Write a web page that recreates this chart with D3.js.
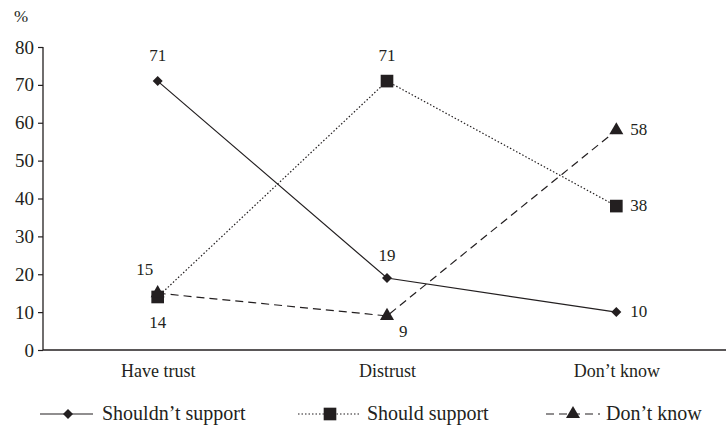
<!DOCTYPE html>
<html><head><meta charset="utf-8">
<script src="https://cdn.jsdelivr.net/npm/d3@7"></script>
<style>body{margin:0;background:#fff}</style>
</head><body>
<svg id="c" width="726" height="428" font-family="Liberation Serif, Tinos, Times New Roman, serif"></svg>
<script>
const categories = ["Have trust", "Distrust", "Don\u2019t know"];
const shouldntSupport = [71, 19, 10];
const shouldSupport = [14, 71, 38];
const dontKnow = [15, 9, 58];
const seriesNames = ["Shouldn\u2019t support", "Should support", "Don\u2019t know"];
const yTicks = [0, 10, 20, 30, 40, 50, 60, 70, 80];

const FONT = "Liberation Serif, Tinos, Times New Roman, serif";
const svg = d3.select("#c");
const x = d3.scalePoint().domain(categories).range([43, 731]).padding(0.5);
const y = d3.scaleLinear().domain([0, 80]).range([350, 47]);
const col = "#231f20";

// y axis
const ya = svg.append("g").attr("transform", "translate(43,0)")
  .call(d3.axisLeft(y).tickValues(yTicks).tickSize(5).tickPadding(4))
  .attr("font-family", FONT).attr("font-size", 19);
ya.select(".domain").attr("stroke", col).attr("stroke-width", 1.3).attr("d", "M0,47V350");
ya.selectAll(".tick line").attr("stroke", col).attr("stroke-width", 1.2);
ya.selectAll("text").attr("fill", col);

// x axis
const xa = svg.append("g").attr("transform", "translate(0,350)")
  .call(d3.axisBottom(x).tickSize(0).tickPadding(14))
  .attr("font-family", FONT).attr("font-size", 18);
xa.select(".domain").attr("stroke", col).attr("stroke-width", 1.3).attr("d", "M43,0H726");
xa.selectAll("text").attr("fill", col);

svg.append("text").attr("x", 14).attr("y", 22).attr("font-size", 17).attr("fill", col).text("%");

const series = [
  {vals: shouldntSupport, dash: null, sym: d3.symbolSquare, size: 50, rot: 45},
  {vals: shouldSupport, dash: "1.5,2", sym: d3.symbolSquare, size: 160, rot: 0},
  {vals: dontKnow, dash: "8,5", sym: d3.symbolTriangle, size: 85, rot: 0}
];
const line = d3.line().x((d, i) => x(categories[i])).y(d => y(d));
series.forEach(s => {
  svg.append("path").attr("d", line(s.vals)).attr("fill", "none").attr("stroke", col)
    .attr("stroke-width", 1.2).attr("stroke-dasharray", s.dash);
});
series.forEach(s => {
  s.vals.forEach((v, i) => {
    svg.append("path").attr("d", d3.symbol().type(s.sym).size(s.size)())
      .attr("transform", `translate(${x(categories[i])},${y(v)}) rotate(${s.rot})`).attr("fill", col);
  });
});

// data labels: [series index, category index, dx, dy]
const labelPos = [
  [0, 0, 0, -20], [0, 1, 0, -17], [0, 2, 22, 5],
  [1, 0, 0, 31], [1, 1, 0, -20], [1, 2, 22, 5],
  [2, 0, -13, -18], [2, 1, 20, 21], [2, 2, 22, 5]
];
const all = [shouldntSupport, shouldSupport, dontKnow];
labelPos.forEach(([si, ci, dx, dy]) => {
  const v = all[si][ci];
  svg.append("text").attr("x", x(categories[ci]) + dx).attr("y", y(v) + dy)
    .attr("text-anchor", dx > 0 ? "start" : "middle").attr("dx", dx > 0 ? -8 : 0)
    .attr("font-size", 17).attr("fill", col).text(v);
});

// legend
const legend = [
  {x0: 40, x1: 93, cx: 68, tx: 102, dash: null, sym: d3.symbolSquare, size: 50, rot: 45},
  {x0: 298, x1: 360, cx: 330, tx: 367, dash: "1.5,2", sym: d3.symbolSquare, size: 160, rot: 0},
  {x0: 546, x1: 600, cx: 573, tx: 606, dash: "8,5", sym: d3.symbolTriangle, size: 85, rot: 0}
];
legend.forEach((l, i) => {
  const ly = 414;
  svg.append("line").attr("x1", l.x0).attr("x2", l.x1).attr("y1", ly).attr("y2", ly)
    .attr("stroke", col).attr("stroke-width", 1.2).attr("stroke-dasharray", l.dash);
  svg.append("path").attr("d", d3.symbol().type(l.sym).size(l.size)())
    .attr("transform", `translate(${l.cx},${ly}) rotate(${l.rot})`).attr("fill", col);
  svg.append("text").attr("x", l.tx).attr("y", ly + 6).attr("font-size", 20).attr("fill", col).text(seriesNames[i]);
});
</script>
</body></html>
